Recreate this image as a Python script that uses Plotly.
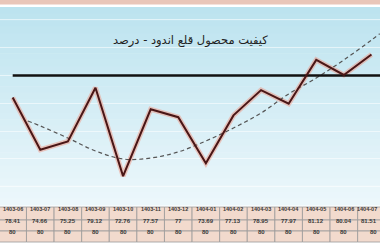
import plotly.graph_objects as go

# ---- data ----
periods = ["1403-06", "1403-07", "1403-08", "1403-09", "1403-10", "1403-11", "1403-12",
           "1404-01", "1404-02", "1404-03", "1404-04", "1404-05", "1404-06", "1404-07"]
quality = [78.41, 74.66, 75.25, 79.12, 72.76, 77.57, 77, 73.69, 77.13, 78.95, 77.97, 81.12, 80.04, 81.51]
target = [80] * 14
value_labels = ["78.41", "74.66", "75.25", "79.12", "72.76", "77.57", "77",
                "73.69", "77.13", "78.95", "77.97", "81.12", "80.04", "81.51"]
trend_x = [0.55, 1, 2, 3, 4, 5, 6, 7, 8, 9, 10, 11, 12, 13, 13.3]
trend_y = [76.73, 76.37, 75.5, 74.57, 73.99, 74.06, 74.5, 75.29, 76.22, 77.3, 78.67, 79.82, 81.12, 82.55, 83.0]
title_text = "کیفیت محصول قلع اندود - درصد"

idx = list(range(len(periods)))

fig = go.Figure()

# glow under the data line
fig.add_trace(go.Scatter(x=idx, y=quality, mode="lines",
                         line=dict(color="rgba(240,150,130,0.5)", width=5),
                         hoverinfo="skip", showlegend=False))
fig.add_trace(go.Scatter(x=trend_x, y=trend_y, mode="lines", line_shape="spline",
                         line=dict(color="#555555", width=1.2, dash="4px,3px"),
                         showlegend=False))
fig.add_trace(go.Scatter(x=idx + [13.4], y=target + [target[-1]], mode="lines",
                         line=dict(color="#111111", width=2.5), showlegend=False))
fig.add_trace(go.Scatter(x=idx, y=quality, mode="lines",
                         line=dict(color="#4a1616", width=2), showlegend=False))

shapes = []
# top strip
shapes.append(dict(type="rect", xref="paper", yref="paper", x0=0, x1=1, y0=1 - 4.5 / 252, y1=1,
                   fillcolor="#e9c6b9", line_width=0, layer="below"))
# gradient background
top_px, bot_px = 7, 205
n = 30
c_top = (188, 227, 239)
c_bot = (236, 247, 251)
for k in range(n):
    t = k / (n - 1)
    c = tuple(int(round(c_top[j] + (c_bot[j] - c_top[j]) * t)) for j in range(3))
    y1p = top_px + (bot_px - top_px) * k / n
    y0p = top_px + (bot_px - top_px) * (k + 1) / n
    shapes.append(dict(type="rect", xref="paper", yref="paper", x0=0, x1=1,
                       y0=1 - y0p / 252 - 0.002, y1=1 - y1p / 252,
                       fillcolor="rgb(%d,%d,%d)" % c, line_width=0, layer="below"))

# table
rows_px = [(207, 220), (220, 231), (231, 242)]
annotations = []
last = idx[-1]
for i in idx:
    texts = [periods[i], value_labels[i], str(target[i])]
    for r, (a, b) in enumerate(rows_px):
        shapes.append(dict(type="rect", xref="x", yref="paper", x0=i - 0.5, x1=i + 0.5,
                           y0=1 - b / 252, y1=1 - a / 252,
                           fillcolor="#f2dacd", line=dict(color="#9a9a9a", width=0.8)))
        ann = dict(x=i, y=1 - (a + b) / 2 / 252, xref="x", yref="paper",
                   text="<b>%s</b>" % texts[r], showarrow=False,
                   font=dict(size=5.5 if r == 0 else 6, color="#3a3a3a",
                             family="Liberation Sans"))
        if i == last:
            ann.update(x=0.997, xref="paper", xanchor="right")
        annotations.append(ann)

annotations.append(dict(x=0.5, y=1 - 31 / 252, xref="paper", yref="paper", text=title_text,
                        showarrow=False, font=dict(size=11.5, color="#222222", family="DejaVu Sans")))

fig.update_layout(
    width=380, height=252,
    margin=dict(l=0, r=0, t=0, b=0),
    paper_bgcolor="white",
    plot_bgcolor="rgba(0,0,0,0)",
    shapes=shapes,
    annotations=annotations,
    xaxis=dict(range=[-0.46, 13.31], domain=[0, 1], showgrid=False, zeroline=False,
               showticklabels=False, ticks=""),
    yaxis=dict(range=[70.68, 84.93], domain=[1 - 205 / 252, 1 - 7 / 252],
               showgrid=True, gridcolor="rgba(255,255,255,0.55)", gridwidth=1,
               dtick=2, tick0=0, zeroline=False, showticklabels=False, ticks=""),
)

fig.write_html("out.html")
